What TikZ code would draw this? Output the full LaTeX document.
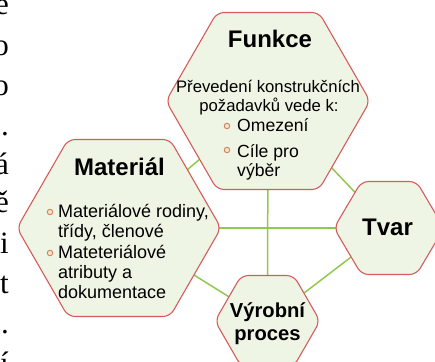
\documentclass[tikz,border=0pt]{standalone}
\usepackage{fontspec}
\setmainfont{Liberation Sans}
\newfontfamily\serifL{Liberation Serif}
\usetikzlibrary{calc}
\definecolor{hexfill}{RGB}{239,245,228}
\definecolor{hexdraw}{RGB}{212,92,92}
\definecolor{linec}{RGB}{146,200,80}
\definecolor{buldraw}{RGB}{214,128,96}
\definecolor{bulfill}{RGB}{246,230,200}
\newcommand\hexa[3]{%
  \draw[hexs] ([shift={(0,-#3)}]#1) -- ([shift={(#2/2,-#3)}]#1) -- ([shift={(#2,0)}]#1)
   -- ([shift={(#2/2,#3)}]#1) -- ([shift={(-#2/2,#3)}]#1) -- ([shift={(-#2,0)}]#1)
   -- ([shift={(-#2/2,-#3)}]#1) -- cycle;}
\begin{document}
\begin{tikzpicture}[x=1pt,y=-1pt,
  hexs/.style={draw=hexdraw, fill=hexfill, line width=1.1pt, rounded corners=7pt},
  link/.style={draw=linec, line width=1.5pt},
  bul/.style={circle, draw=buldraw, fill=bulfill, line width=0.9pt, minimum size=5.5pt, inner sep=0pt},
  ttl/.style={font=\fontsize{24}{28}\selectfont\bfseries, inner sep=0pt, anchor=base},
  ttls/.style={font=\fontsize{20.2}{24}\selectfont\bfseries, inner sep=0pt, anchor=base},
  body/.style={font=\fontsize{16.7}{20}\selectfont, inner sep=0pt, anchor=base},
  item/.style={font=\fontsize{17.6}{20}\selectfont, inner sep=0pt, anchor=base west},
  mitem/.style={font=\fontsize{18}{20}\selectfont, inner sep=0pt, anchor=base west},
  edgech/.style={font=\serifL\fontsize{31}{31}\selectfont, inner sep=0pt, anchor=base east}]
\useasboundingbox (0,0) rectangle (435,361);
% cut-off text at the left edge
\node[edgech] (e1) at (9,15) {e};
\node[edgech] (e2) at (9,55) {o};
\node[edgech] (e3) at (9,95) {o};
\node[edgech] (e4) at (9,135) {.};
\node[edgech] (e5) at (9,174) {á};
\node[edgech] (e6) at (9,212) {ě};
\node[edgech] (e7) at (9,253) {i};
\node[edgech] (e8) at (9,293) {t};
\node[edgech] (e9) at (9,333) {.};
\node[edgech] (e10) at (9,373) {í};
% centres
\coordinate (F) at (268,101);
\coordinate (M) at (119,228);
\coordinate (T) at (389,228);
\coordinate (V) at (267.5,321);
% connectors
\draw[link] (M) -- (F);
\draw[link] (F) -- (T);
\draw[link] (T) -- (V);
\draw[link] (V) -- (M);
\draw[link] (M) -- (T);
\draw[link] (F) -- (V);
% hexagons
\hexa{F}{102}{88.5}
\hexa{M}{102}{88.5}
\hexa{T}{55}{46.5}
\hexa{V}{52.5}{45.5}
% Funkce
\node[ttl] (ft) at (270,48) {Funkce};
\node[body] (f1) at (268,92) {Převedení konstrukčních};
\node[body] (f2) at (269,111.5) {požadavků vede k:};
\node[bul] (fb1) at (227,126) {};
\node[item] (f3) at (237,131) {Omezení};
\node[bul] (fb2) at (227,150) {};
\node[item] (f4) at (237,157) {Cíle pro};
\node[item] (f5) at (237,176) {výběr};
% Material
\node[ttl] (mt) at (119.5,175) {Materiál};
\node[bul] (mb1) at (50,212) {};
\node[mitem] (m1) at (58,217) {Materiálové rodiny,};
\node[mitem] (m2) at (58,237.5) {třídy, členové};
\node[bul] (mb2) at (50,253) {};
\node[mitem] (m3) at (58,258) {Mateteriálové};
\node[mitem] (m4) at (58,278) {atributy a};
\node[mitem] (m5) at (58,298.5) {dokumentace};
% Tvar
\node[ttl] (tt) at (387.5,235) {Tvar};
% Vyrobni proces
\node[ttls] (v1) at (267.5,317) {Výrobní};
\node[ttls] (v2) at (267.5,340) {proces};
\end{tikzpicture}
\end{document}
